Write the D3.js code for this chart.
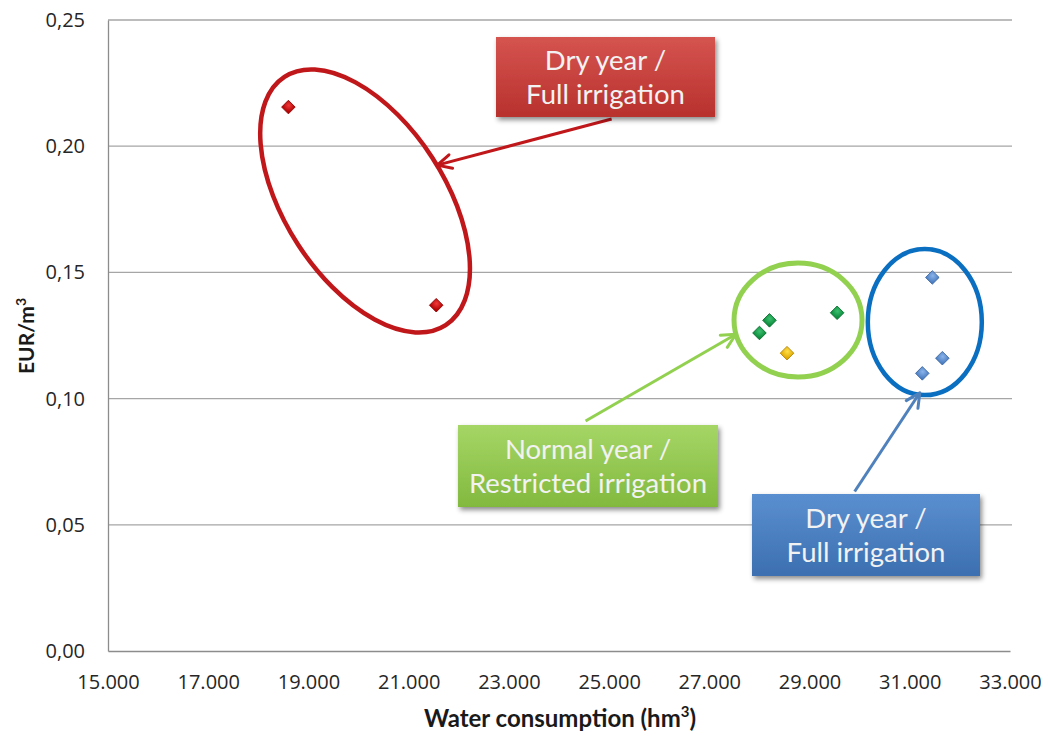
<!DOCTYPE html>
<html>
<head>
<meta charset="utf-8">
<script src="https://cdn.jsdelivr.net/npm/d3@7/dist/d3.min.js"></script>
<style>
  html, body { margin: 0; padding: 0; background: #fff; }
  svg { display: block; }
</style>
</head>
<body>
<svg id="chart" width="1050" height="736"></svg>
<script>
// Scatter values: water consumption vs. EUR/m³
const redX = [18600, 21550];
const redY = [0.2155, 0.137];
const greenX = [28000, 28200, 29550];
const greenY = [0.126, 0.131, 0.134];
const yellowX = [28550];
const yellowY = [0.118];
const blueX = [31450, 31650, 31250];
const blueY = [0.148, 0.116, 0.110];

const xTicks = [15000, 17000, 19000, 21000, 23000, 25000, 27000, 29000, 31000, 33000];
const yTicks = [0, 0.05, 0.10, 0.15, 0.20, 0.25];

const boxLabels = {
  red: ["Dry year /", "Full irrigation"],
  green: ["Normal year /", "Restricted irrigation"],
  blue: ["Dry year /", "Full irrigation"]
};

const svg = d3.select("#chart");
const plotL = 108, plotR = 1010, plotT = 20, plotB = 651;

const x = d3.scaleLinear().domain([15000, 33000]).range([plotL, plotR]);
const y = d3.scaleLinear().domain([0, 0.25]).range([plotB, plotT]);

const fmtX = v => d3.format(",")(v).replace(/,/g, ".");
const fmtY = v => d3.format(".2f")(v).replace(".", ",");

const defs = svg.append("defs");

// gradients for callout boxes
function vGrad(id, c1, c2) {
  const g = defs.append("linearGradient").attr("id", id)
    .attr("x1", 0).attr("y1", 0).attr("x2", 0).attr("y2", 1);
  g.append("stop").attr("offset", "0%").attr("stop-color", c1);
  g.append("stop").attr("offset", "100%").attr("stop-color", c2);
}
vGrad("gRed", "#d55450", "#b8312d");
vGrad("gGreen", "#a5d666", "#82b93e");
vGrad("gBlue", "#5a8fd0", "#3c6fb0");

// gradients for the diamond markers
function rGrad(id, c1, c2) {
  const g = defs.append("radialGradient").attr("id", id)
    .attr("cx", "40%").attr("cy", "35%").attr("r", "70%");
  g.append("stop").attr("offset", "0%").attr("stop-color", c1);
  g.append("stop").attr("offset", "100%").attr("stop-color", c2);
}
rGrad("mRed", "#f03a3a", "#b00000");
rGrad("mGreen", "#3cc070", "#0a8a3a");
rGrad("mYellow", "#ffe04a", "#e0a800");
rGrad("mBlue", "#8ab4ea", "#4a7cc0");

const shadow = defs.append("filter").attr("id", "shadow")
  .attr("x", "-10%").attr("y", "-10%").attr("width", "130%").attr("height", "140%");
shadow.append("feDropShadow").attr("dx", 2).attr("dy", 3).attr("stdDeviation", 2.5)
  .attr("flood-color", "#000").attr("flood-opacity", 0.45);

function arrowMarker(id, color) {
  defs.append("marker").attr("id", id)
    .attr("viewBox", "0 0 20 20").attr("refX", 17).attr("refY", 10)
    .attr("markerWidth", 20).attr("markerHeight", 20)
    .attr("markerUnits", "userSpaceOnUse").attr("orient", "auto")
    .append("path").attr("d", "M3,3 L17,10 L3,17")
    .attr("fill", "none").attr("stroke", color).attr("stroke-width", 3)
    .attr("stroke-linecap", "round").attr("stroke-linejoin", "round");
}
arrowMarker("aRed", "#c0171b");
arrowMarker("aGreen", "#92d050");
arrowMarker("aBlue", "#4f81bd");

// gridlines
svg.append("g")
  .selectAll("line").data(yTicks.filter(d => d > 0)).join("line")
  .attr("x1", plotL).attr("x2", plotR + 2)
  .attr("y1", d => y(d)).attr("y2", d => y(d))
  .attr("stroke", "#a6a6a6").attr("stroke-width", 1.3);

// axes
const yAxis = svg.append("g").attr("transform", `translate(${plotL},0)`)
  .call(d3.axisLeft(y).tickValues(yTicks).tickFormat(fmtY).tickSize(0).tickPadding(23));
yAxis.select(".domain").attr("stroke", "#8c8c8c").attr("stroke-width", 1.3);
yAxis.selectAll("text").attr("font-family", "'Open Sans', sans-serif")
  .attr("font-size", 20).attr("fill", "#262626");

const xAxis = svg.append("g").attr("transform", `translate(0,${plotB})`)
  .call(d3.axisBottom(x).tickValues(xTicks).tickFormat(fmtX).tickSize(0).tickPadding(24));
xAxis.select(".domain").attr("stroke", "#8c8c8c").attr("stroke-width", 1.3);
xAxis.selectAll("text").attr("font-family", "'Open Sans', sans-serif")
  .attr("font-size", 20).attr("fill", "#262626");

// axis titles
svg.append("text").attr("x", 560).attr("y", 727).attr("text-anchor", "middle")
  .attr("font-family", "Lato, sans-serif").attr("font-weight", "bold")
  .attr("font-size", 24).attr("fill", "#1a1a1a")
  .html("Water consumption (hm<tspan font-size='15' dy='-10'>3</tspan><tspan dy='10'>)</tspan>");

svg.append("text").attr("transform", "translate(34,336) rotate(-90)")
  .attr("text-anchor", "middle")
  .attr("font-family", "Lato, sans-serif").attr("font-weight", "bold")
  .attr("font-size", 21).attr("fill", "#1a1a1a")
  .html("EUR/m<tspan font-size='14' dy='-8'>3</tspan>");

// group ellipses (centers in data units)
const rings = [
  { cx: 20130, cy: 0.1783, rx: 148, ry: 80, rot: 57, color: "#c0171b", w: 4.5 },
  { cx: 28770, cy: 0.1311, rx: 64, ry: 57, rot: 0, color: "#92d050", w: 5 },
  { cx: 31300, cy: 0.1303, rx: 57, ry: 73, rot: 0, color: "#0a6fc0", w: 4.5 }
];
svg.append("g").selectAll("ellipse").data(rings).join("ellipse")
  .attr("transform", d => `translate(${x(d.cx)},${y(d.cy)}) rotate(${d.rot})`)
  .attr("rx", d => d.rx).attr("ry", d => d.ry)
  .attr("fill", "none").attr("stroke", d => d.color).attr("stroke-width", d => d.w);

// points
const diamond = d3.symbol().type(d3.symbolSquare).size(92);
function drawPoints(xs, ys, fill, stroke) {
  svg.append("g").selectAll("path").data(xs.map((v, i) => [v, ys[i]])).join("path")
    .attr("d", diamond)
    .attr("transform", d => `translate(${x(d[0])},${y(d[1])}) rotate(45)`)
    .attr("fill", fill).attr("stroke", stroke).attr("stroke-width", 0.8);
}
drawPoints(redX, redY, "url(#mRed)", "#8a0000");
drawPoints(greenX, greenY, "url(#mGreen)", "#06692b");
drawPoints(yellowX, yellowY, "url(#mYellow)", "#b08000");
drawPoints(blueX, blueY, "url(#mBlue)", "#3a66a0");

// arrows from callouts to ellipses (data units)
const arrows = [
  { x1: 25050, y1: 0.2108, x2: 21570, y2: 0.1925, marker: "aRed", color: "#c0171b" },
  { x1: 24530, y1: 0.0911, x2: 27530, y2: 0.1255, marker: "aGreen", color: "#92d050" },
  { x1: 29900, y1: 0.0632, x2: 31200, y2: 0.1023, marker: "aBlue", color: "#4f81bd" }
];
svg.append("g").selectAll("line").data(arrows).join("line")
  .attr("x1", d => x(d.x1)).attr("y1", d => y(d.y1))
  .attr("x2", d => x(d.x2)).attr("y2", d => y(d.y2))
  .attr("stroke", d => d.color).attr("stroke-width", 3)
  .attr("marker-end", d => `url(#${d.marker})`);

// callout boxes (pixel layout)
const boxes = [
  { x: 496, y: 37, w: 219, h: 80, fill: "url(#gRed)", lines: boxLabels.red },
  { x: 458, y: 425, w: 260, h: 82, fill: "url(#gGreen)", lines: boxLabels.green },
  { x: 752, y: 494, w: 228, h: 82, fill: "url(#gBlue)", lines: boxLabels.blue }
];
const bg = svg.append("g").selectAll("g").data(boxes).join("g")
  .attr("transform", d => `translate(${d.x},${d.y})`);
bg.append("rect").attr("width", d => d.w).attr("height", d => d.h)
  .attr("fill", d => d.fill).attr("filter", "url(#shadow)");
bg.each(function(d) {
  const t = d3.select(this).append("text")
    .attr("text-anchor", "middle")
    .attr("font-family", "Lato, sans-serif").attr("font-size", 27.5)
    .attr("fill", "#f2f2f2");
  d.lines.forEach((s, i) => {
    t.append("tspan").attr("x", d.w / 2).attr("y", d.h / 2 - 7 + i * 34).text(s);
  });
});
</script>
</body>
</html>
